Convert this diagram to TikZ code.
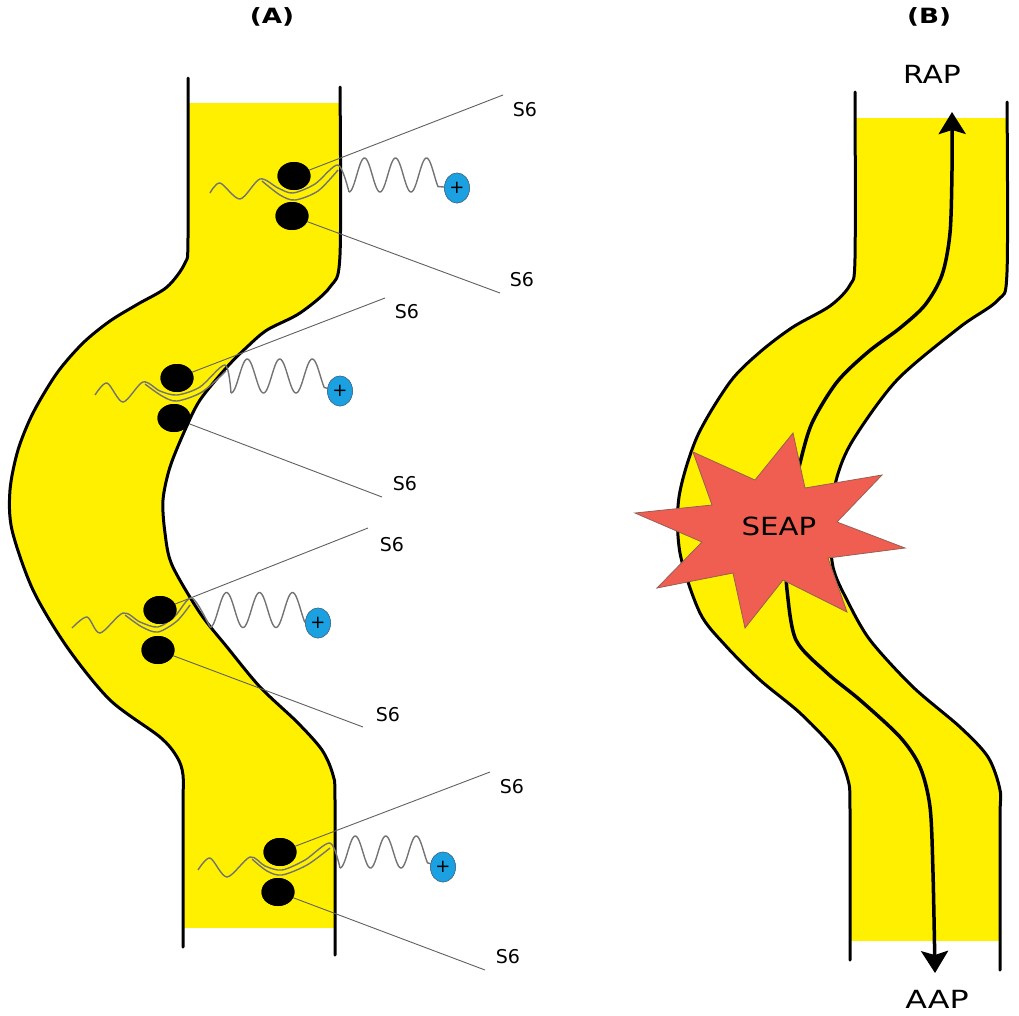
\documentclass[tikz,border=0pt]{standalone}
\usepackage{fontspec}
\setmainfont{DejaVu Sans}
\usetikzlibrary{shapes.geometric,arrows.meta}
\definecolor{tubeyellow}{RGB}{255,240,0}
\definecolor{ionblue}{RGB}{27,161,226}
\definecolor{ionedge}{RGB}{70,110,140}
\definecolor{starred}{RGB}{239,94,80}
\definecolor{staredge}{RGB}{150,95,85}
\definecolor{wavegray}{RGB}{115,115,115}
\definecolor{leadgray}{RGB}{95,95,95}
\begin{document}
\begin{tikzpicture}[x=1pt,y=-1pt,
  wall/.style={line width=3pt,line join=round,line cap=round},
  wave/.style={draw=wavegray,line width=1.4pt},
  leader/.style={draw=leadgray,line width=0.9pt},
  gate/.style={ellipse,fill=black,minimum width=33pt,minimum height=28pt,inner sep=0pt},
  ion/.style={ellipse,fill=ionblue,draw=ionedge,line width=0.6pt,minimum width=25pt,minimum height=30pt,inner sep=0pt,font=\fontsize{18}{18}\selectfont},
  slabel/.style={font=\fontsize{19}{19}\selectfont,inner sep=0pt},
  title/.style={font=\bfseries\fontsize{21}{21}\selectfont,inner sep=0pt},
  biglabel/.style={font=\fontsize{25}{25}\selectfont,inner sep=0pt},
  flow/.style={line width=3.5pt,-{Stealth[length=22pt,width=27pt,inset=4pt]}}
]
\useasboundingbox (0,0) rectangle (1019,1015);

% ---------------- panel A : tube ----------------
\begin{scope}
\clip (0,103) rectangle (1019,927);
\fill[tubeyellow] plot[smooth] coordinates {(188,78) (188,238) (185,263) (167,287) (138,304) (110,321) (83,343) (57,373) (33,413) (18,450) (10,490) (12,530) (33,590) (67,647) (110,700) (160,737) (177,757) (183,775) (183,810) (183,947)}
  -- plot[smooth] coordinates {(335,955) (335,800) (333,775) (322,750) (297,722) (260,687) (227,647) (200,613) (172,565) (165,533) (163,500) (170,467) (185,430) (200,400) (227,367) (247,347) (267,330) (300,313) (330,287) (340,255) (340,87)} -- cycle;
\end{scope}
\draw[wall] plot[smooth] coordinates {(188,78) (188,238) (185,263) (167,287) (138,304) (110,321) (83,343) (57,373) (33,413) (18,450) (10,490) (12,530) (33,590) (67,647) (110,700) (160,737) (177,757) (183,775) (183,810) (183,947)};
\draw[wall] plot[smooth] coordinates {(340,87) (340,255) (330,287) (300,313) (267,330) (247,347) (227,367) (200,400) (185,430) (170,467) (163,500) (165,533) (172,565) (200,613) (227,647) (260,687) (297,722) (322,750) (333,775) (335,800) (335,955)};

% gates, ions and labels
\node[gate] (g1u) at (294,176) {};
\node[gate] (g1l) at (292,216) {};
\node[gate] (g2u) at (177,378) {};
\node[gate] (g2l) at (174,418) {};
\node[gate] (g3u) at (160,610) {};
\node[gate] (g3l) at (158,650) {};
\node[gate] (g4u) at (280,852) {};
\node[gate] (g4l) at (278,892) {};

\node[ion] (i1) at (457,188) {};
\node[ion] (i2) at (340,391) {};
\node[ion] (i3) at (318,623) {};
\node[ion] (i4) at (443,867) {};

\node[slabel] (s1u) at (525,110) {S6};
\node[slabel] (s1l) at (522,280) {S6};
\node[slabel] (s2u) at (407,312) {S6};
\node[slabel] (s2l) at (405,484) {S6};
\node[slabel] (s3u) at (392,545) {S6};
\node[slabel] (s3l) at (388,715) {S6};
\node[slabel] (s4u) at (512,787) {S6};
\node[slabel] (s4l) at (508,957) {S6};

\coordinate (e1u) at (503,95);
\coordinate (e1l) at (500,293);
\coordinate (e2u) at (385,298);
\coordinate (e2l) at (382,497);
\coordinate (e3u) at (368,528);
\coordinate (e3l) at (363,727);
\coordinate (e4u) at (490,772);
\coordinate (e4l) at (485,970);

\draw[leader] (g1u) -- (e1u);
\draw[leader] (g1l) -- (e1l);
\draw[leader] (g2u) -- (e2u);
\draw[leader] (g2l) -- (e2l);
\draw[leader] (g3u) -- (e3u);
\draw[leader] (g3l) -- (e3l);
\draw[leader] (g4u) -- (e4u);
\draw[leader] (g4l) -- (e4l);

% waves: small part inside the membrane, then a regular wave outside ending at the ion
\draw[wave] plot[smooth] coordinates {(210,193) (220,183) (240,199) (260,179) (278,188) (293,193) (315,184) (338,165) (349,192)};
\draw[wave] plot[smooth] coordinates {(262,181) (280,195) (295,200) (318,191) (338,170)};
\draw[wave] plot[domain=0:2.87,samples=120] ({349+31*\x},{175+17*cos(360*\x)}) -- (i1);

\draw[wave] plot[smooth] coordinates {(95,395) (107,383) (123,402) (143,382) (160,391) (177,395) (200,387) (225,365) (231,393)};
\draw[wave] plot[smooth] coordinates {(145,384) (162,396) (177,401) (202,392) (226,371)};
\draw[wave] plot[domain=0:2.87,samples=120] ({231+32.5*\x},{376+17*cos(360*\x)}) -- (i2);

\draw[wave] plot[smooth] coordinates {(72,628) (87,617) (100,633) (123,613) (140,622) (158,627) (175,616) (192,598) (210,627)};
\draw[wave] plot[smooth] coordinates {(125,615) (142,627) (158,632) (177,621) (190,605)};
\draw[wave] plot[domain=0:2.87,samples=120] ({210+33*\x},{610+17.5*cos(360*\x)}) -- (i3);

\draw[wave] plot[smooth] coordinates {(198,870) (210,858) (227,877) (250,857) (265,866) (282,870) (305,860) (330,843) (340,868)};
\draw[wave] plot[smooth] coordinates {(252,859) (267,871) (282,875) (307,865) (330,848)};
\draw[wave] plot[domain=0:2.87,samples=120] ({340+30.5*\x},{852+16*cos(360*\x)}) -- (i4);

\node[gate] at (g1u) {};
\node[gate] at (g1l) {};
\node[gate] at (g2u) {};
\node[gate] at (g2l) {};
\node[gate] at (g3u) {};
\node[gate] at (g3l) {};
\node[gate] at (g4u) {};
\node[gate] at (g4l) {};

\node[ion] at (i1) {+};
\node[ion] at (i2) {+};
\node[ion] at (i3) {+};
\node[ion] at (i4) {+};

\node[title] (ta) at (272,17) {\scalebox{1.25}[1]{(A)}};

% ---------------- panel B ----------------
\begin{scope}
\clip (0,118) rectangle (1019,940);
\fill[tubeyellow] plot[smooth] coordinates {(855,92) (855,258) (850,285) (830,306) (793,327) (760,352) (730,382) (697,437) (679,497) (680,553) (700,613) (725,645) (760,680) (800,713) (835,750) (848,780) (850,810) (850,960)}
  -- plot[smooth] coordinates {(1000,970) (1000,820) (1000,790) (988,757) (960,727) (913,687) (870,640) (847,600) (833,567) (830,520) (837,477) (853,440) (897,380) (960,327) (998,300) (1007,272) (1007,102)} -- cycle;
\end{scope}
\draw[wall] plot[smooth] coordinates {(855,92) (855,258) (850,285) (830,306) (793,327) (760,352) (730,382) (697,437) (679,497) (680,553) (700,613) (725,645) (760,680) (800,713) (835,750) (848,780) (850,810) (850,960)};
\draw[wall] plot[smooth] coordinates {(1007,102) (1007,272) (998,300) (960,327) (897,380) (853,440) (837,477) (830,520) (833,567) (847,600) (870,640) (913,687) (960,727) (988,757) (1000,790) (1000,820) (1000,970)};

\node[biglabel] (rap) at (932,74) {\scalebox{1.19}[1]{RAP}};
\node[biglabel] (aap) at (937,999) {\scalebox{1.27}[1]{AAP}};
\node[title] (tb) at (929,17) {\scalebox{1.25}[1]{(B)}};
\coordinate (raptip) at (952,112);
\coordinate (aaptip) at (935,973);
\coordinate (seapin) at (785,540);
\coordinate (seapout) at (786,560);

\draw[flow] plot[smooth] coordinates {(seapin) (792,500) (800,463) (812,423) (837,382) (868,352) (900,328) (925,305) (942,275) (950,233) (952,170) (raptip)};
\draw[flow] plot[smooth] coordinates {(seapout) (787,590) (796,640) (827,673) (860,700) (900,737) (920,767) (930,807) (933,873) (aaptip)};

\draw[fill=starred,draw=staredge,line width=0.8pt,line join=miter]
  (793,433) -- (805,488) -- (882,475) -- (837,522) -- (905,548) -- (828,558) -- (847,612) -- (783,580)
  -- (745,628) -- (733,573) -- (657,588) -- (702,542) -- (635,513) -- (712,505) -- (693,452) -- (755,480) -- cycle;
\node[biglabel] (seap) at (779,526) {\scalebox{1.17}[1]{SEAP}};
\end{tikzpicture}
\end{document}
